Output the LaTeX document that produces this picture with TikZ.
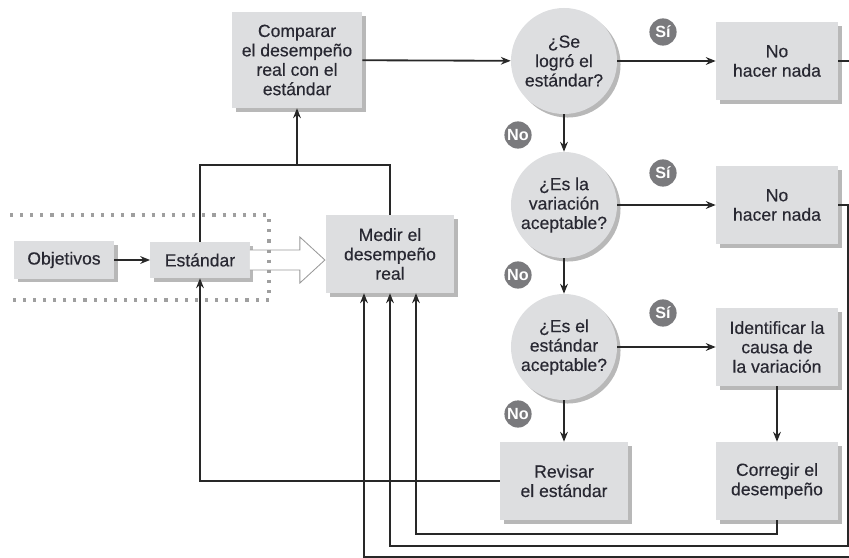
\documentclass[tikz,border=0pt]{standalone}
\usepackage{fontspec}
\setmainfont{Liberation Sans}[BoldFont=Liberation Sans, BoldFeatures={FakeBold=0.35}]
\newfontfamily\badgefont{Liberation Sans Bold}
\definecolor{ctlfill}{RGB}{221,222,224}
\definecolor{ctltext}{RGB}{40,40,50}
\definecolor{ctlline}{RGB}{40,40,40}
\definecolor{ctlbadge}{RGB}{122,122,125}
\usetikzlibrary{shapes,arrows.meta,shadows,calc}

\begin{document}
\begin{tikzpicture}[x=0.025cm, y=-0.025cm,
    every node/.style={font=\fontsize{12.5pt}{13.8pt}\selectfont\bfseries, text=ctltext, align=center, inner sep=0pt},
    box/.style={fill=ctlfill, minimum width=3.05cm, minimum height=1.95cm,
        drop shadow={shadow xshift=2.5pt, shadow yshift=-2.5pt, fill=black, opacity=0.28}},
    quest/.style={circle, fill=ctlfill, minimum size=2.65cm,
        drop shadow={shadow xshift=2.5pt, shadow yshift=-2.5pt, fill=black, opacity=0.28}},
    badge/.style={circle, fill=ctlbadge, minimum size=0.68cm, text=white, font=\fontsize{11.5pt}{12pt}\selectfont\badgefont},
    line/.style={draw=ctlline, line width=1.3pt},
    arr/.style={line, -{Stealth[length=7pt, width=5.5pt]}}]
    \useasboundingbox (0,0) rectangle (849,558);

    % Left side
    \node[box, minimum width=2.5cm, minimum height=0.93cm] (obj) at (64,260) {Objetivos};
    \node[box, minimum width=2.48cm, minimum height=0.9cm] (est) at (200,260) {Estándar};
    \node[box, minimum width=3.2cm] (medir) at (390,254) {Medir el\\desempeño\\real};
    \node[box, minimum width=3.25cm, minimum height=2.4cm] (comp) at (297,60) {Comparar\\el desempeño\\real con el\\estándar};

    % Questions
    \node[quest] (q1) at (564,61) {¿Se\\logró el\\estándar?};
    \node[quest] (q2) at (564,205) {¿Es la\\variación\\aceptable?};
    \node[quest] (q3) at (564,347) {¿Es el\\estándar\\aceptable?};

    % Right side
    \node[box] (nada1) at (777,61) {No\\hacer nada};
    \node[box] (nada2) at (777,205) {No\\hacer nada};
    \node[box] (ident) at (777,347) {Identificar la\\causa de\\la variación};
    \node[box, minimum width=3.2cm] (rev) at (564,481) {Revisar\\el estándar};
    \node[box] (corr) at (777,481) {Corregir el\\desempeño};

    % Badges
    \node[badge] (si1) at (663,32) {Sí};
    \node[badge] (si2) at (663,173) {Sí};
    \node[badge] (si3) at (663,313) {Sí};
    \node[badge] (no1) at (518,135) {No};
    \node[badge] (no2) at (518,275) {No};
    \node[badge] (no3) at (518,414) {No};

    % Hollow arrow and dotted frame
    \draw[draw=gray!80, fill=white, line width=0.6pt] (est.east) ++(0,-10) -- ++(50,0) -- ++(0,-13)
        -- ++(25,23) -- ++(-25,23) -- ++(0,-13) -- ++(-50,0);
    \draw[gray!75, line width=2.2pt, dash pattern=on 2.2pt off 5pt] (10,215) -- (269,215) -- (269,300) -- (10,300);

    % Main flow
    \coordinate (split) at (297,165);
    \draw[arr] (obj) -- (est);
    \draw[line] (est.north) |- (split) -| (medir.north);
    \draw[arr] (split) -- (comp.south);
    \draw[arr] (comp) -- (q1);
    \draw[arr] (q1) -- (nada1);
    \draw[arr] (q2) -- (nada2);
    \draw[arr] (q3) -- (ident);
    \draw[arr] (q1) -- (q2);
    \draw[arr] (q2) -- (q3);
    \draw[arr] (q3) -- (rev);
    \draw[arr] (ident) -- (corr);

    % Feedback
    \coordinate (edge1) at (853,557);
    \coordinate (back1) at (364,557);
    \coordinate (edge2) at (848,546);
    \coordinate (back2) at (390,546);
    \coordinate (back3) at (416,534);
    \draw[arr] (rev.west) -| (est.south);
    \draw[arr] (nada1.east) -| (edge1) -- (back1) -- (back1 |- medir.south);
    \draw[arr] (nada2.east) -| (edge2) -- (back2) -- (back2 |- medir.south);
    \draw[arr] (corr.south) |- (back3) -- (back3 |- medir.south);
\end{tikzpicture}
\end{document}
